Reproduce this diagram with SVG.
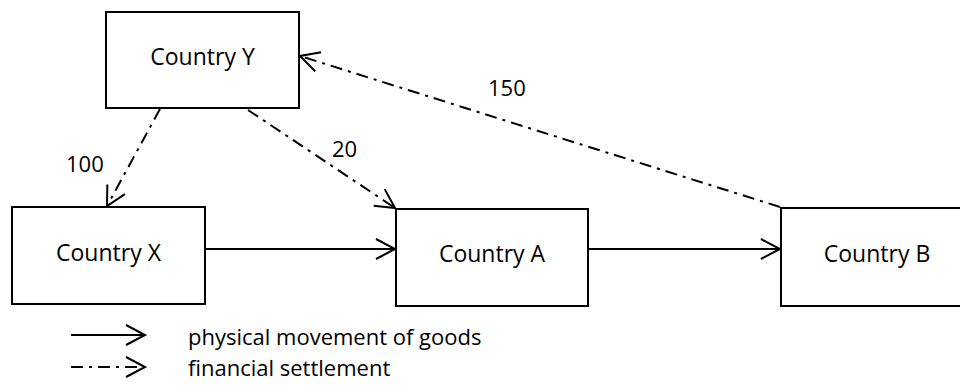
<svg xmlns="http://www.w3.org/2000/svg" width="960" height="385" viewBox="0 0 960 385">
<style>
.box{fill:#fff;stroke:#000;stroke-width:2}
.lbl{font-family:"Open Sans","Noto Sans",sans-serif;font-size:22px;fill:#000}
.node{font-size:23px}
.solid{stroke:#000;stroke-width:2;fill:none;marker-end:url(#arr)}
.dash{stroke:#000;stroke-width:2;fill:none;stroke-dasharray:12 6 3 6;marker-end:url(#arr)}
</style>
<defs>
<marker id="arr" markerUnits="userSpaceOnUse" viewBox="-22 -12 24 24" refX="0" refY="0" markerWidth="24" markerHeight="24" orient="auto" overflow="visible">
<path d="M-19,-10 L0,0 L-19,10" fill="none" stroke="#000" stroke-width="2" stroke-dasharray="none"/>
</marker>
</defs>
<rect width="960" height="385" fill="#fff"/>
<g id="connectors">
<line class="solid" x1="205" y1="249" x2="395" y2="249"/>
<line class="solid" x1="588" y1="249" x2="780" y2="249"/>
<line class="dash" x1="160" y1="109" x2="107" y2="206"/>
<line class="dash" x1="248" y1="110" x2="395" y2="208"/>
<line class="dash" x1="780" y1="207" x2="300" y2="56"/>
<text class="lbl" x="66" y="172">100</text>
<text class="lbl" x="332" y="157">20</text>
<text class="lbl" x="488" y="96">150</text>
</g>
<g id="node-y">
<rect class="box" x="106" y="12" width="193" height="96"/>
<text class="lbl node" x="202.5" y="65" text-anchor="middle">Country Y</text>
</g>
<g id="node-x">
<rect class="box" x="12" y="207" width="193" height="97"/>
<text class="lbl node" x="108.5" y="261" text-anchor="middle">Country X</text>
</g>
<g id="node-a">
<rect class="box" x="396" y="209" width="192" height="97"/>
<text class="lbl node" x="492" y="262" text-anchor="middle">Country A</text>
</g>
<g id="node-b">
<rect class="box" x="781" y="208" width="192" height="98"/>
<text class="lbl node" x="877" y="262" text-anchor="middle">Country B</text>
</g>
<g id="legend">
<line class="solid" x1="71" y1="335" x2="145" y2="335"/>
<line class="dash" x1="71" y1="367" x2="145" y2="367"/>
<text class="lbl" x="188" y="345">physical movement of goods</text>
<text class="lbl" x="188" y="376">financial settlement</text>
</g>
</svg>
